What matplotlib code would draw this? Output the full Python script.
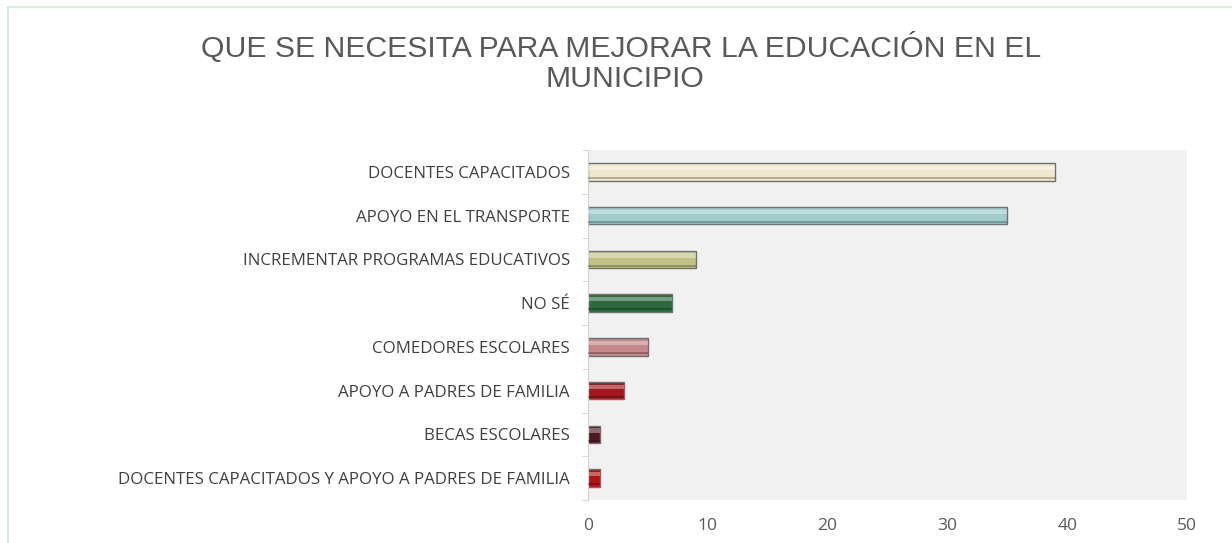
import matplotlib.pyplot as plt
import matplotlib.patches as mpatches
import numpy as np

categorias = ['DOCENTES CAPACITADOS',
              'APOYO EN EL TRANSPORTE',
              'INCREMENTAR PROGRAMAS EDUCATIVOS',
              'NO SÉ',
              'COMEDORES ESCOLARES',
              'APOYO A PADRES DE FAMILIA',
              'BECAS ESCOLARES',
              'DOCENTES CAPACITADOS Y APOYO A PADRES DE FAMILIA']
valores = [39, 35, 9, 7, 5, 3, 1, 1]
colores = ['#efe8cc', '#9fcccc', '#c2c283', '#2d6a3c', '#c48a8a', '#a3161c', '#4e1a1e', '#b80f14']
ticks_x = [0, 10, 20, 30, 40, 50]

fig = plt.figure(figsize=(12.32, 5.43), dpi=100)
fig.patch.set_facecolor('white')

# marco verde claro del grafico
fig.patches.append(mpatches.Rectangle((8/1232, -0.05), 1.2, 1 - 7/543 + 0.05,
                                      transform=fig.transFigure, fill=False,
                                      edgecolor='#d6eedd', linewidth=1.5))

ax = fig.add_axes([588/1232, 43/543, 599/1232, 350/543])
ax.set_facecolor('#f1f1f1')

y = np.arange(len(categorias))
alto = 0.40
ax.barh(y, valores, height=alto, color=colores, edgecolor='#707070', linewidth=1.0, zorder=2)
# brillo superior para imitar el efecto 3D
ax.barh(y - alto * 0.22, valores, height=alto * 0.25, color='white', alpha=0.35,
        linewidth=0, zorder=3)
# sombra inferior
ax.barh(y + alto * 0.36, valores, height=alto * 0.12, color='black', alpha=0.25,
        linewidth=0, zorder=3)

ax.set_xlim(0, 50)
ax.set_ylim(len(categorias) - 0.5, -0.5)
ax.set_xticks(ticks_x)
ax.set_xticklabels([str(t) for t in ticks_x])
ax.set_yticks(y)
ax.set_yticklabels(categorias)

for s in ['top', 'right', 'bottom']:
    ax.spines[s].set_visible(False)
ax.spines['left'].set_color('#d0d0d0')
ax.tick_params(axis='x', length=0, pad=13, labelsize=12.5, labelcolor='#595959')
ax.tick_params(axis='y', length=0, pad=13, labelsize=12.2, labelcolor='#404040')
for lab in ax.get_xticklabels() + ax.get_yticklabels():
    lab.set_family(['Open Sans', 'DejaVu Sans'])
ax.set_yticks(np.arange(-0.5, len(categorias), 1), minor=True)
ax.tick_params(axis='y', which='minor', length=4, color='#d0d0d0')

fig.text(621/1232, 1 - 47/543, 'QUE SE NECESITA PARA MEJORAR LA EDUCACIÓN EN EL',
         ha='center', va='center', fontsize=21.7, color='#595959', family='Liberation Sans')
fig.text(625/1232, 1 - 79/543, 'MUNICIPIO',
         ha='center', va='center', fontsize=21.7, color='#595959', family='Liberation Sans')

fig.savefig('out.png', dpi=100)
